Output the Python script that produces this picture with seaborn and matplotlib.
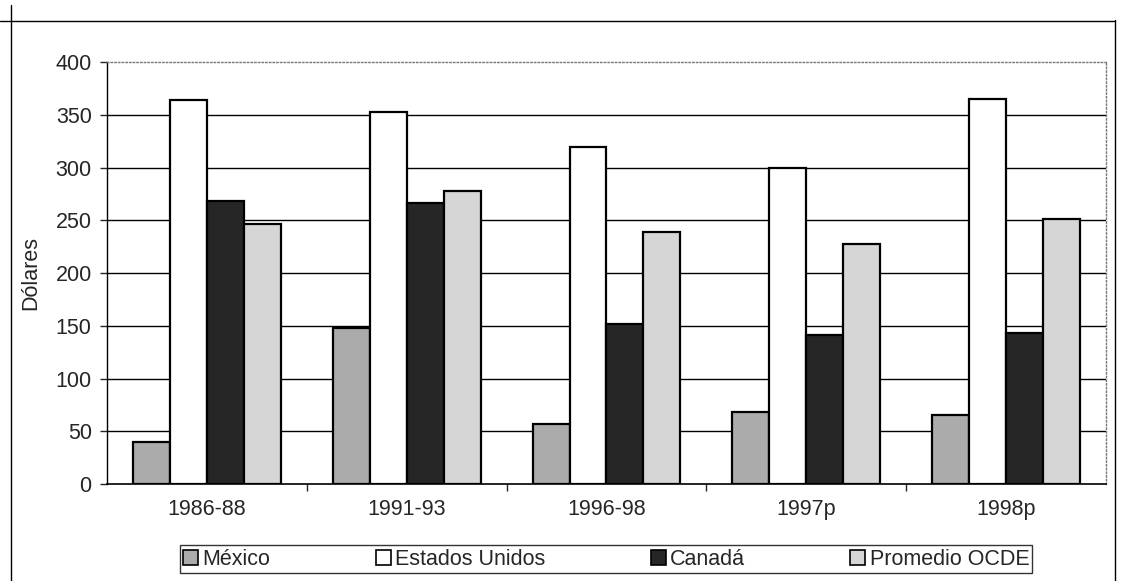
import pandas as pd
import numpy as np
import matplotlib
matplotlib.use('Agg')
import matplotlib.pyplot as plt
import seaborn as sns
from matplotlib.lines import Line2D

# Datos
periodos = ['1986-88', '1991-93', '1996-98', '1997p', '1998p']
mexico = [40, 148, 57, 68, 65]
estados_unidos = [364, 353, 320, 300, 365]
canada = [268, 266, 152, 141, 143]
promedio_ocde = [247, 278, 239, 228, 251]
series = ['México', 'Estados Unidos', 'Canadá', 'Promedio OCDE']
colores = ['#ababab', '#ffffff', '#262626', '#d6d6d6']

df = pd.DataFrame({
    'periodo': periodos * 4,
    'serie': [s for s in series for _ in periodos],
    'valor': mexico + estados_unidos + canada + promedio_ocde,
})

sns.set_style('white')
plt.rcParams['font.family'] = ['Liberation Sans', 'DejaVu Sans']

fig = plt.figure(figsize=(11.32, 5.81), dpi=100)
ax = fig.add_axes([0.0945, 0.167, 0.8825, 0.726])

sns.barplot(data=df, x='periodo', y='valor', hue='serie', palette=colores,
            width=0.74, gap=0, edgecolor='black', linewidth=1.6,
            saturation=1, legend=False, ax=ax, zorder=3)

ax.set_ylim(0, 400)
ax.set_xlim(-0.5, 4.5)
ax.set_yticks(range(0, 401, 50))
ax.tick_params(axis='y', labelsize=15.5, direction='out', length=5, width=1, left=True, pad=6)
ax.tick_params(axis='x', labelsize=15.5, length=0, pad=11)
ax.set_xticks(np.arange(0.5, 4.5, 1), minor=True)
ax.tick_params(axis='x', which='minor', direction='out', length=5, width=1, bottom=True)
ax.set_xlabel('')
ax.set_ylabel('Dólares', fontsize=15.5, labelpad=10)

for y in range(50, 400, 50):
    ax.axhline(y, color='black', lw=1, zorder=1)

ax.spines['left'].set_color('black')
ax.spines['bottom'].set_color('black')
ax.spines['left'].set_linewidth(1)
ax.spines['bottom'].set_linewidth(1.2)
for s in ['top', 'right']:
    ax.spines[s].set_color('#777777')
    ax.spines[s].set_linestyle(':')
    ax.spines[s].set_linewidth(1)

handles = [plt.Rectangle((0, 0), 1, 1, facecolor=c, edgecolor='black', lw=1.2) for c in colores]
leg = fig.legend(handles, series, loc='lower left', ncol=4, mode='expand',
                 bbox_to_anchor=(0.159, 0.014, 0.753, 0.055), frameon=True,
                 fancybox=False, edgecolor='black', fontsize=15.5,
                 handlelength=0.7, handleheight=0.7, handletextpad=0.2,
                 borderpad=0.15, borderaxespad=0)
leg.get_frame().set_linewidth(1)

# marco exterior del grafico
fig.add_artist(Line2D([11/1132, 11/1132], [0, 1 - 5/581], color='black', lw=1))
fig.add_artist(Line2D([0, 1115/1132], [1 - 21/581, 1 - 21/581], color='black', lw=1))
fig.add_artist(Line2D([1115/1132, 1115/1132], [0, 1 - 20/581], color='black', lw=1))

fig.savefig('out.png', dpi=100)
